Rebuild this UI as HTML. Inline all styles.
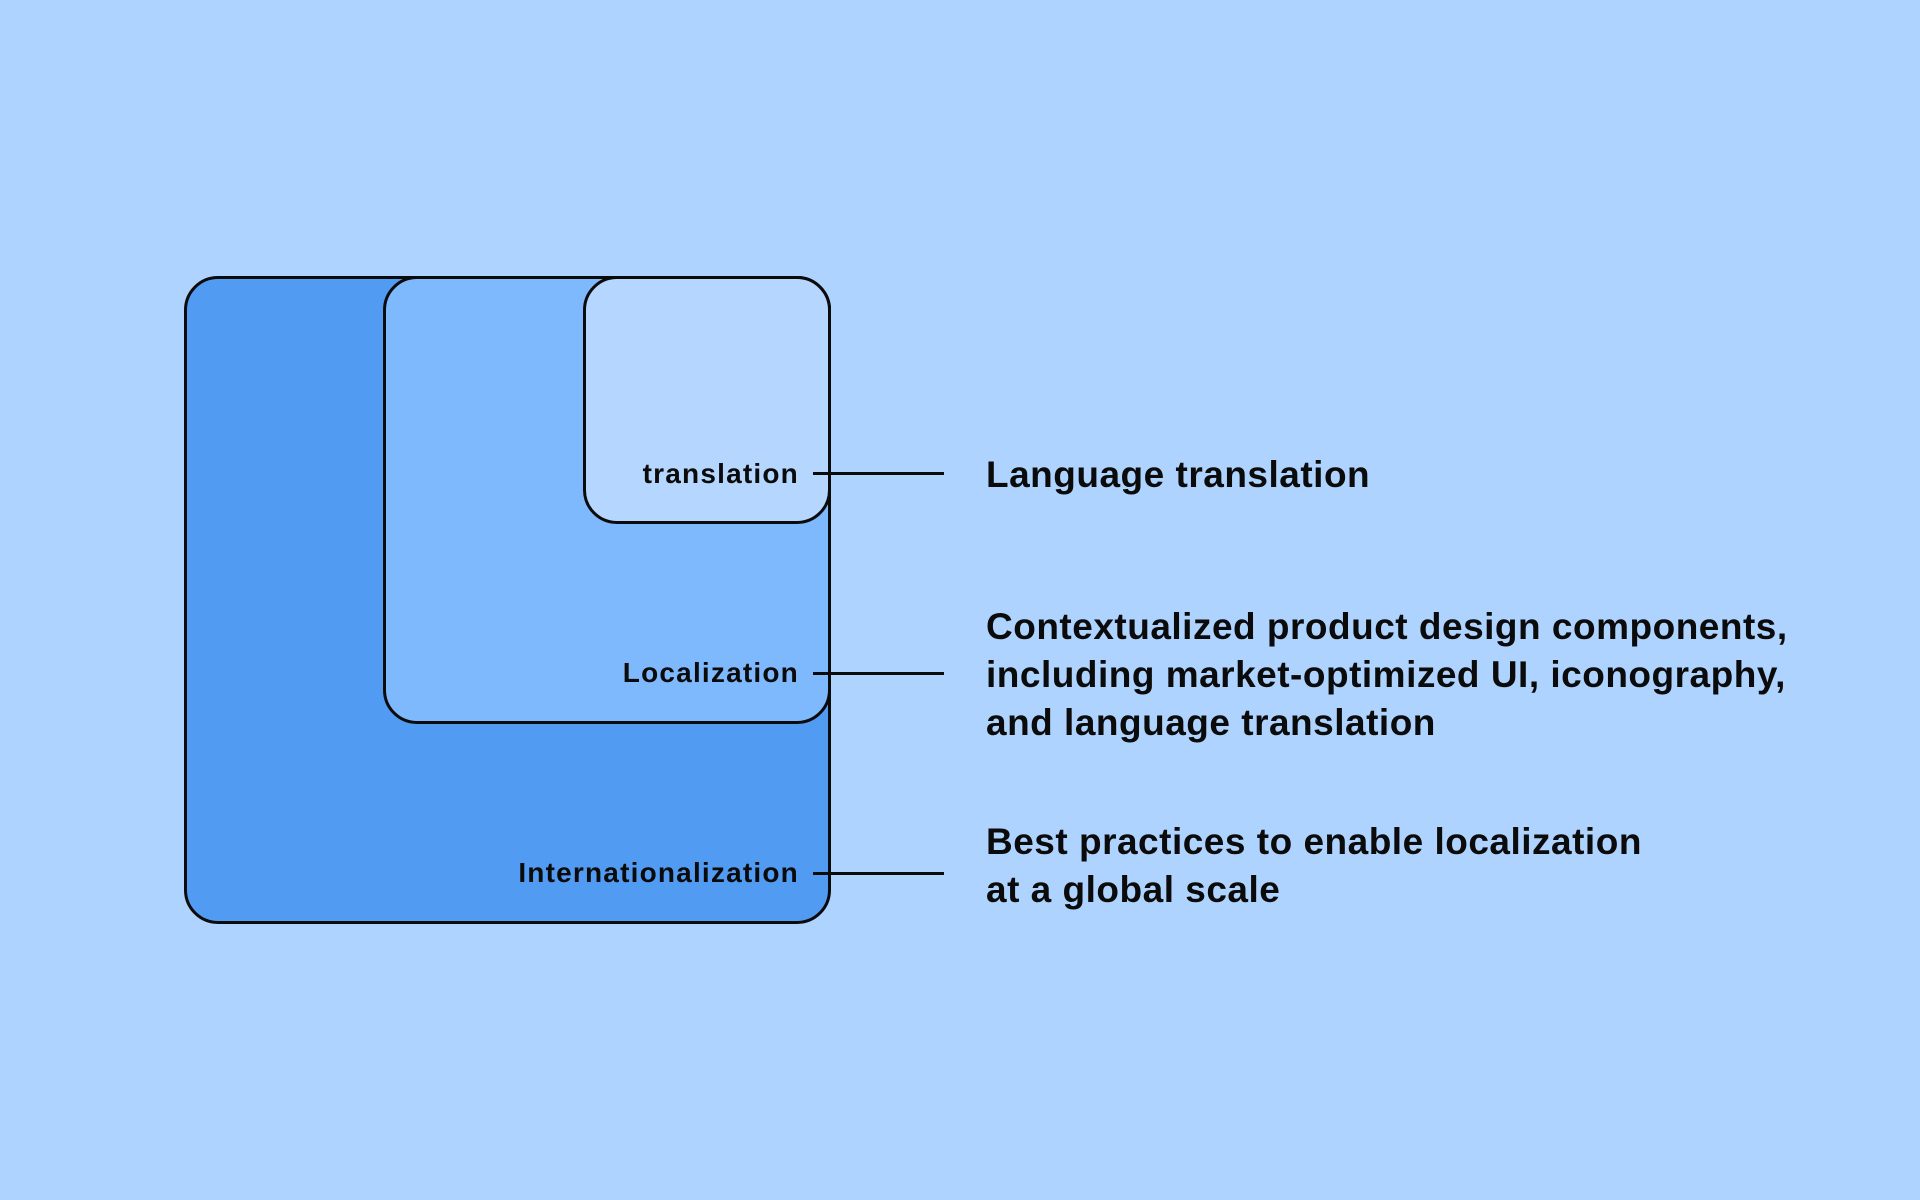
<!DOCTYPE html>
<html><head><meta charset="utf-8"><style>
body{margin:0;width:1920px;height:1200px;background:#aed3ff;position:relative;overflow:hidden;font-family:"Liberation Sans",sans-serif;font-weight:bold;color:#0b0b0b}
.b{position:absolute;border:3px solid #0b0b0b;border-radius:34px;box-sizing:border-box}
.l{position:absolute;font-size:28px;right:0;text-align:right;line-height:32px;letter-spacing:1.2px}
.t{position:absolute;left:986px;font-size:37px;line-height:48px;letter-spacing:0.5px}
.ln{position:absolute;left:813px;width:131px;height:3px;background:#0b0b0b}
</style></head><body>
<div class="b" style="left:184px;top:276px;width:647px;height:648px;background:#519bf3"></div>
<div class="b" style="left:383px;top:276px;width:448px;height:448px;background:#7eb8fd"></div>
<div class="b" style="left:583px;top:276px;width:248px;height:248px;background:#b5d6ff"></div>
<div class="l" style="right:1121px;top:458px">translation</div>
<div class="l" style="right:1121px;top:657px">Localization</div>
<div class="l" style="right:1121px;top:857px">Internationalization</div>
<div class="ln" style="top:472px"></div>
<div class="ln" style="top:672px"></div>
<div class="ln" style="top:872px"></div>
<div class="t" style="top:451px">Language translation</div>
<div class="t" style="top:603px">Contextualized product design components,<br>including market-optimized UI, iconography,<br>and language translation</div>
<div class="t" style="top:818px">Best practices to enable localization<br>at a global scale</div>
</body></html>
